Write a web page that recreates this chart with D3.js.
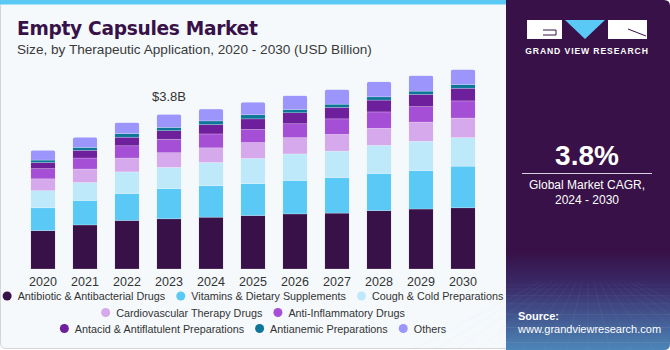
<!DOCTYPE html>
<html>
<head>
<meta charset="utf-8">
<script src="https://cdn.jsdelivr.net/npm/d3@7"></script>
<style>
  html, body { margin: 0; padding: 0; background: #ffffff; }
  svg { display: block; font-family: "Liberation Sans", Arial, sans-serif; }
</style>
</head>
<body>
<div id="chart"></div>
<script>
// values in USD Billion
const years = ["2020", "2021", "2022", "2023", "2024", "2025", "2026", "2027", "2028", "2029", "2030"];
const antibiotic   = [0.94, 1.08, 1.19, 1.23, 1.27, 1.31, 1.35, 1.37, 1.43, 1.47, 1.50];
const vitamins     = [0.56, 0.60, 0.66, 0.74, 0.77, 0.78, 0.82, 0.87, 0.91, 0.94, 1.02];
const coughCold    = [0.42, 0.44, 0.53, 0.52, 0.57, 0.62, 0.65, 0.65, 0.69, 0.72, 0.70];
const cardio       = [0.29, 0.33, 0.34, 0.36, 0.36, 0.39, 0.40, 0.41, 0.42, 0.47, 0.48];
const antiInflam   = [0.25, 0.27, 0.30, 0.33, 0.34, 0.32, 0.34, 0.38, 0.40, 0.38, 0.42];
const antacid      = [0.15, 0.19, 0.21, 0.21, 0.23, 0.26, 0.27, 0.28, 0.29, 0.30, 0.31];
const antianemic   = [0.06, 0.07, 0.09, 0.08, 0.09, 0.10, 0.08, 0.08, 0.08, 0.08, 0.09];
const others       = [0.24, 0.25, 0.27, 0.32, 0.29, 0.31, 0.34, 0.36, 0.37, 0.38, 0.37];

const seriesNames = [
    "Antibiotic & Antibacterial Drugs",
    "Vitamins & Dietary Supplements",
    "Cough & Cold Preparations",
    "Cardiovascular Therapy Drugs",
    "Anti-Inflammatory Drugs",
    "Antacid & Antiflatulent Preparations",
    "Antianemic Preparations",
    "Others"
];
const seriesValues = [antibiotic, vitamins, coughCold, cardio, antiInflam, antacid, antianemic, others];
const seriesColors = ["#371147", "#5bc9f6", "#bee9fa", "#d5a9eb", "#a54fd6", "#6e1f9b", "#0e7799", "#9b95fc"];
const legendRows = [[0, 1, 2], [3, 4], [5, 6, 7]];

const labelYear = "2023";
const labelText = "$3.8B";
const cagrText = "3.8%";

const width = 670, height = 350;
const baseline = 269;

const svg = d3.select("#chart")
    .append("svg")
        .attr("width", width)
        .attr("height", height);

const defs = svg.append("defs");

// card background
svg.append("rect")
    .attr("x", 0.5).attr("y", 0.5)
    .attr("width", 520).attr("height", 348)
    .attr("rx", 5)
    .attr("fill", "#f5f9fc")
    .attr("stroke", "#d2d4d6");
svg.append("rect")
    .attr("x", 0).attr("y", 0)
    .attr("width", 510).attr("height", 4.5)
    .attr("fill", "#5bc9f6");

// right panel
const grad = defs.append("linearGradient")
    .attr("id", "panelGrad")
    .attr("x1", 0).attr("y1", 0).attr("x2", 0).attr("y2", 1);
grad.append("stop").attr("offset", "0.72").attr("stop-color", "#371147");
grad.append("stop").attr("offset", "0.82").attr("stop-color", "#3a2c6a");
grad.append("stop").attr("offset", "1").attr("stop-color", "#4c86b8");

svg.append("path")
    .attr("d", "M506,0 H664 Q670,0 670,6 V344 Q670,350 664,350 H506 Z")
    .attr("fill", "url(#panelGrad)");

// faint grid texture at the bottom of the panel
const gridG = svg.append("g")
    .attr("stroke", "#9fc6ea")
    .attr("stroke-width", 0.5)
    .attr("fill", "none");
d3.range(0, 8).forEach(function(i) {
    const yy = 285 + i * i * 1.1 + i * 3;
    gridG.append("line")
        .attr("x1", 506).attr("x2", 670)
        .attr("y1", yy).attr("y2", yy)
        .attr("stroke-opacity", 0.08 + i * 0.03);
});
d3.range(-8, 9).forEach(function(i) {
    gridG.append("line")
        .attr("x1", 588 + i * 6).attr("y1", 282)
        .attr("x2", 588 + i * 22).attr("y2", 350)
        .attr("stroke-opacity", 0.15);
});

// logo
const logo = svg.append("g");
logo.append("rect").attr("x", 527).attr("y", 20).attr("width", 35).attr("height", 19).attr("fill", "#ffffff");
logo.append("path").attr("d", "M543,30 H556 V35 H543").attr("fill", "none").attr("stroke", "#371147").attr("stroke-width", 1);
logo.append("path").attr("d", "M565,20 H605 L585,39 Z").attr("fill", "#5bc9f6");
logo.append("rect").attr("x", 608).attr("y", 20).attr("width", 39).attr("height", 19).attr("fill", "#ffffff");
logo.append("path").attr("d", "M628,29 L646,36").attr("stroke", "#371147").attr("stroke-width", 1);
svg.append("text")
    .attr("x", 587).attr("y", 54)
    .attr("text-anchor", "middle")
    .attr("fill", "#ffffff")
    .attr("font-size", 8.6)
    .attr("font-weight", "bold")
    .attr("letter-spacing", 0.9)
    .text("GRAND VIEW RESEARCH");

svg.append("text")
    .attr("x", 587).attr("y", 165)
    .attr("text-anchor", "middle")
    .attr("fill", "#ffffff")
    .attr("font-size", 28)
    .attr("font-weight", "bold")
    .text(cagrText);
svg.append("line")
    .attr("x1", 522).attr("x2", 652)
    .attr("y1", 173.5).attr("y2", 173.5)
    .attr("stroke", "#d8d0e0").attr("stroke-width", 1);
svg.append("text")
    .attr("x", 587).attr("y", 189)
    .attr("text-anchor", "middle")
    .attr("fill", "#ffffff")
    .attr("font-size", 12)
    .text("Global Market CAGR,");
svg.append("text")
    .attr("x", 587).attr("y", 204)
    .attr("text-anchor", "middle")
    .attr("fill", "#ffffff")
    .attr("font-size", 12)
    .text("2024 - 2030");
svg.append("text")
    .attr("x", 518).attr("y", 320)
    .attr("fill", "#ffffff")
    .attr("font-size", 11)
    .attr("font-weight", "bold")
    .text("Source:");
svg.append("text")
    .attr("x", 518).attr("y", 333)
    .attr("fill", "#ffffff")
    .attr("font-size", 11)
    .text("www.grandviewresearch.com");

// titles
svg.append("text")
    .attr("x", 17).attr("y", 35)
    .attr("fill", "#371147")
    .attr("font-size", 18.6)
    .attr("font-weight", 900)
    .attr("font-family", "'DejaVu Sans', 'Liberation Sans', sans-serif")
    .attr("letter-spacing", -0.3)
    .text("Empty Capsules Market");
svg.append("text")
    .attr("x", 17).attr("y", 54)
    .attr("fill", "#3a3a3a")
    .attr("font-size", 13.6)
    .text("Size, by Therapeutic Application, 2020 - 2030 (USD Billion)");

// scales
const x = d3.scaleBand()
    .domain(years)
    .range([9.75, 496.25])
    .paddingInner(0.417)
    .paddingOuter(0.5);

const y = d3.scaleLinear()
    .domain([0, 5])
    .range([baseline, baseline - 204]);

const table = years.map(function(yr, i) {
    const row = { year: yr };
    seriesNames.forEach(function(name, k) { row[name] = seriesValues[k][i]; });
    return row;
});

const stacked = d3.stack().keys(seriesNames)(table);
const totals = table.map(function(row) {
    return d3.sum(seriesNames, function(n) { return row[n]; });
});

// per bar clip for the rounded top
years.forEach(function(yr, i) {
    defs.append("clipPath")
        .attr("id", "clip" + yr)
      .append("rect")
        .attr("x", x(yr))
        .attr("y", y(totals[i]))
        .attr("width", x.bandwidth())
        .attr("height", baseline - y(totals[i]) + 6)
        .attr("rx", 2.5);
});

const barsG = svg.append("g");
stacked.forEach(function(layer, k) {
    barsG.selectAll(null)
        .data(layer)
        .enter()
        .append("rect")
            .attr("clip-path", function(d) { return "url(#clip" + d.data.year + ")"; })
            .attr("x", function(d) { return x(d.data.year); })
            .attr("y", function(d) { return y(d[1]); })
            .attr("width", x.bandwidth())
            .attr("height", function(d) { return y(d[0]) - y(d[1]); })
            .attr("fill", seriesColors[k])
            .attr("stroke", "#ffffff")
            .attr("stroke-opacity", 0.35)
            .attr("stroke-width", 0.6);
});

// x axis
const xAxis = svg.append("g")
    .attr("transform", "translate(0," + baseline + ")")
    .call(d3.axisBottom(x).tickSize(0).tickPadding(8));
xAxis.select(".domain").remove();
xAxis.selectAll("text")
    .attr("font-size", 12.5)
    .attr("font-family", "'Liberation Sans', Arial, sans-serif")
    .attr("fill", "#333333");

// value label
const labelIndex = years.indexOf(labelYear);
svg.append("text")
    .attr("x", x(labelYear) + x.bandwidth() / 2)
    .attr("y", y(totals[labelIndex]) - 13)
    .attr("text-anchor", "middle")
    .attr("font-size", 13)
    .attr("fill", "#333333")
    .text(labelText);

// legend
const legendG = svg.append("g");
const legendYs = [296, 312.5, 328.5];
legendRows.forEach(function(row, r) {
    const rowG = legendG.append("g");
    let cursor = 0;
    row.forEach(function(k, j) {
        if (j > 0) cursor += 11;
        rowG.append("circle")
            .attr("cx", cursor + 4.5)
            .attr("cy", legendYs[r])
            .attr("r", 4.5)
            .attr("fill", seriesColors[k]);
        const t = rowG.append("text")
            .attr("x", cursor + 15)
            .attr("y", legendYs[r] + 4)
            .attr("font-size", 10.8)
            .attr("fill", "#333333")
            .text(seriesNames[k]);
        cursor += 15 + t.node().getComputedTextLength();
    });
    rowG.attr("transform", "translate(" + (253 - cursor / 2) + ",0)");
});
</script>
</body>
</html>
